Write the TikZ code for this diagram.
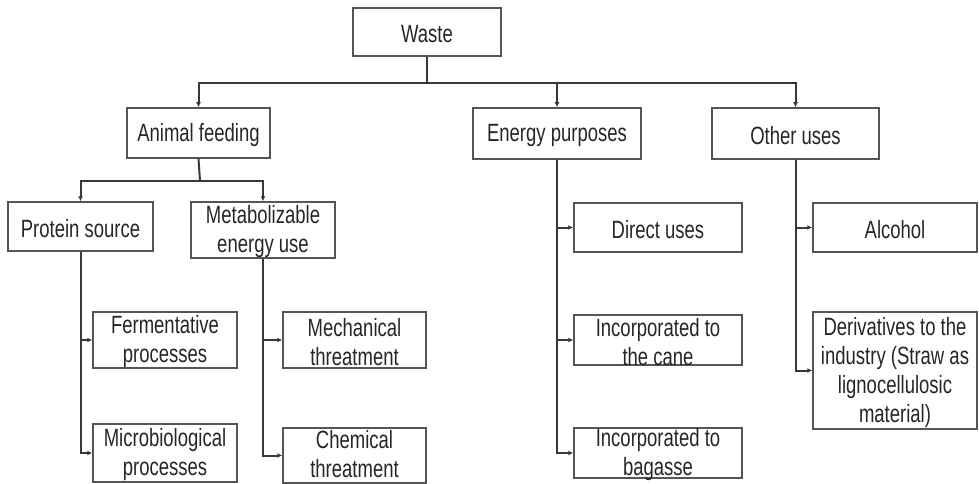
\documentclass[tikz,border=0pt]{standalone}
\usepackage{fontspec}
\setmainfont{Liberation Sans}[FakeStretch=0.74]
\usetikzlibrary{arrows.meta}
\definecolor{boxc}{HTML}{555555}
\definecolor{linec}{HTML}{383838}
\definecolor{txtc}{HTML}{262626}
\newcommand\mybox[7][]{%
  \node[box, minimum width={(#5)-(#3)}, minimum height={(#6)-(#4)}] (#2) at ({((#3)+(#5))/2},{((#4)+(#6))/2}) {};
  \node[txt,#1] (#2-t) at (#2.center) {#7};}
\begin{document}
\begin{tikzpicture}[x=1pt,y=-1pt,
  box/.style={draw=boxc, line width=1.5pt, inner sep=0pt},
  txt/.style={text=txtc, align=center, inner sep=0pt, yshift=-2pt, font=\fontsize{25}{29}\selectfont},
  conn/.style={draw=linec, line width=2pt},
  arr/.style={conn, -{Latex[length=5pt,width=5pt]}}]
\useasboundingbox (0,0) rectangle (979,484);

\mybox{waste}{353}{8}{501}{56}{Waste}
\mybox{animal}{127}{108}{270}{158}{Animal feeding}
\mybox{energy}{473}{108}{641}{159}{Energy purposes}
\mybox{other}{712}{108}{879}{159}{Other uses}

\mybox{protein}{8}{202}{153}{251}{Protein source}
\mybox{metab}{191}{202}{335}{258}{Metabolizable\\energy use}
\mybox{ferm}{93}{312}{237}{368}{Fermentative\\processes}
\mybox{micro}{93}{424}{237}{482}{Microbiological\\processes}
\mybox{mech}{283}{312}{426}{368}{Mechanical\\threatment}
\mybox[yshift=3pt]{chem}{283}{428}{426}{483}{Chemical\\threatment}

\mybox{direct}{574}{203}{742}{252}{Direct uses}
\mybox{cane}{574}{315}{742}{365}{Incorporated to\\the cane}
\mybox{bagasse}{574}{428}{742}{478}{Incorporated to\\bagasse}

\mybox{alcohol}{813}{203}{977}{252}{Alcohol}
\mybox{deriv}{813}{312}{977}{429}{Derivatives to the\\industry (Straw as\\lignocellulosic\\material)}

\coordinate (j1) at (427,83);
\coordinate (j2) at (200,181);

\draw[conn] (waste.south) -- (j1);
\draw[arr] (j1) -| (animal.north);
\draw[arr] (j1) -| (energy.north);
\draw[arr] (j1) -| (other.north);

\draw[conn] (animal.south) -- (j2);
\draw[arr] (j2) -| (protein.north);
\draw[arr] (j2) -| (metab.north);

\draw[arr] (protein.south) |- (ferm.west);
\draw[arr] (protein.south) |- (micro.west);
\draw[arr] (metab.south) |- (mech.west);
\draw[arr] (metab.south) |- (chem.west);

\draw[arr] (energy.south) |- (direct.west);
\draw[arr] (energy.south) |- (cane.west);
\draw[arr] (energy.south) |- (bagasse.west);

\draw[arr] (other.south) |- (alcohol.west);
\draw[arr] (other.south) |- (deriv.west);
\end{tikzpicture}
\end{document}
